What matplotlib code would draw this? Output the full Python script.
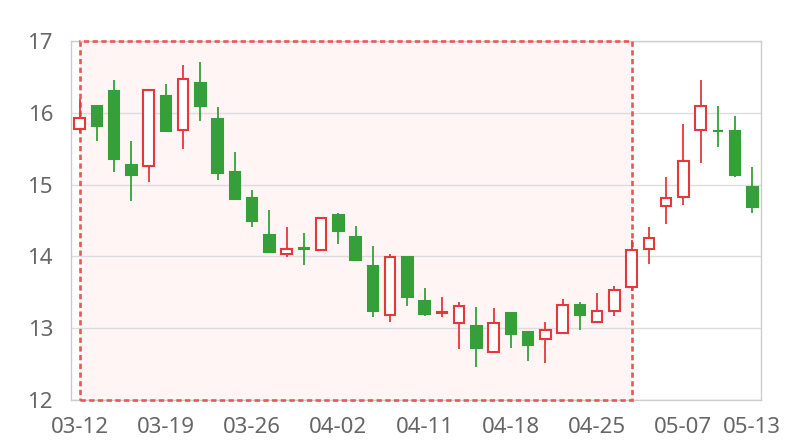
"""Candlestick chart with a highlighted date range."""

import matplotlib
matplotlib.use("Agg")
import matplotlib.pyplot as plt

dates = [
    "03-12", "03-13", "03-14", "03-15", "03-16",
    "03-19", "03-20", "03-21", "03-22", "03-23",
    "03-26", "03-27", "03-28", "03-29", "03-30",
    "04-02", "04-03", "04-04", "04-09", "04-10",
    "04-11", "04-12", "04-13", "04-16", "04-17",
    "04-18", "04-19", "04-20", "04-23", "04-24",
    "04-25", "04-26", "04-27", "05-03", "05-04",
    "05-07", "05-08", "05-09", "05-10", "05-13",
]
opens = [15.77, 16.09, 16.30, 15.28, 15.26, 16.23, 15.76, 16.41, 15.92, 15.17,
         14.82, 14.30, 14.04, 14.11, 14.09, 14.57, 14.27, 13.87, 13.18, 13.99,
         13.38, 13.21, 13.07, 13.03, 12.67, 13.21, 12.95, 12.85, 12.94, 13.33,
         13.08, 13.24, 13.57, 14.10, 14.70, 14.83, 15.76, 15.75, 15.74, 14.97]
closes = [15.93, 15.81, 15.36, 15.13, 16.32, 15.75, 16.47, 16.09, 15.16, 14.80,
          14.50, 14.06, 14.11, 14.10, 14.53, 14.35, 13.95, 13.24, 13.99, 13.44,
          13.20, 13.23, 13.31, 12.72, 13.07, 12.92, 12.76, 12.97, 13.32, 13.19,
          13.24, 13.53, 14.09, 14.26, 14.82, 15.33, 16.09, 15.74, 15.13, 14.69]
highs = [16.19, 16.09, 16.46, 15.61, 16.32, 16.40, 16.67, 16.71, 16.08, 15.45,
         14.92, 14.64, 14.41, 14.32, 14.54, 14.61, 14.42, 14.15, 14.03, 13.99,
         13.56, 13.43, 13.36, 13.30, 13.28, 13.21, 12.96, 13.08, 13.40, 13.37,
         13.49, 13.59, 14.23, 14.41, 15.11, 15.85, 16.45, 16.10, 15.95, 15.24]
lows = [15.72, 15.61, 15.17, 14.77, 15.04, 15.74, 15.49, 15.88, 15.07, 14.80,
        14.41, 14.06, 13.99, 13.88, 14.07, 14.17, 13.94, 13.16, 13.09, 13.31,
        13.17, 13.16, 12.71, 12.46, 12.67, 12.73, 12.55, 12.52, 12.92, 12.97,
        13.08, 13.17, 13.52, 13.90, 14.45, 14.71, 15.30, 15.53, 15.11, 14.61]
highlight_start = "03-12"
highlight_end = "04-27"
label_idx = [0, 5, 10, 15, 20, 25, 30, 35, 39]

UP = "#e5383b"
DOWN = "#35a03a"
GRID = "#dddddd"
AXIS = "#cccccc"
TEXT = "#666666"

plt.rcParams["font.family"] = ["Noto Sans", "DejaVu Sans"]

x = list(range(len(dates)))
is_up = [c >= o for o, c in zip(opens, closes)]
colors = [UP if u else DOWN for u in is_up]
faces = ["white" if u else DOWN for u in is_up]
bottoms = [min(o, c) for o, c in zip(opens, closes)]
heights = [max(abs(c - o), 0.012) for o, c in zip(opens, closes)]

fig = plt.figure(figsize=(8, 4.4), dpi=100)
ax = fig.add_axes([0.08875, 0.0909, 0.8625, 0.8159])

# highlighted range: fill behind, dashed border above the spines but under the candles
x0, x1 = dates.index(highlight_start), dates.index(highlight_end)
ax.axvspan(x0, x1, facecolor="#fff5f5", edgecolor="none", zorder=0.5)
ax.axvspan(x0, x1, facecolor="none", edgecolor="#ee5558", linestyle=(0, (2.0, 1.3)),
           linewidth=1.9, zorder=2.6, clip_on=False)

ax.vlines(x, lows, highs, colors=colors, linewidth=1.3, zorder=3)
ax.bar(x, heights, bottom=bottoms, width=0.62, color=faces, edgecolor=colors,
       linewidth=1.5, zorder=4)

ax.set_xlim(-0.5, len(dates) - 0.5)
ax.set_ylim(12, 17)
ax.set_yticks(range(12, 18))
ax.set_xticks(label_idx)
ax.set_xticklabels([dates[i] for i in label_idx])
ax.tick_params(length=0, labelsize=16, colors=TEXT)
ax.tick_params(axis="y", pad=13)
ax.tick_params(axis="x", pad=12)
ax.grid(axis="y", color=GRID, linewidth=1, zorder=0)
ax.set_axisbelow(True)
for s in ax.spines.values():
    s.set_color(AXIS)
    s.set_linewidth(1)

fig.savefig("out.png", dpi=100)
